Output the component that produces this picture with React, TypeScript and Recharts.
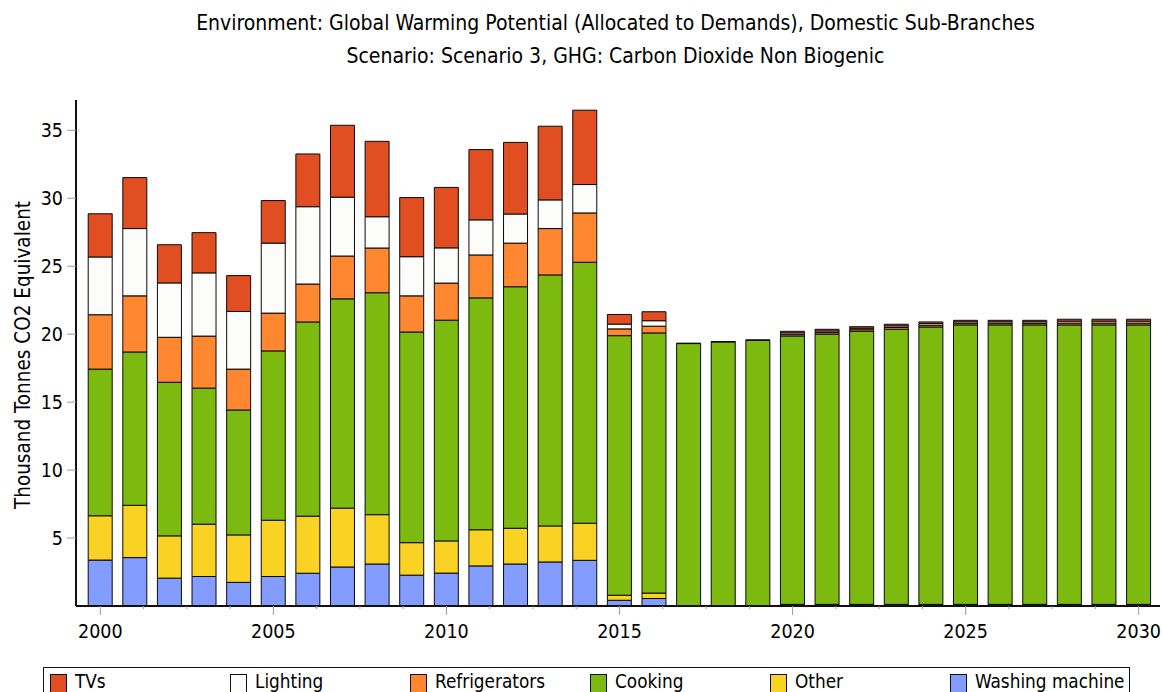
import React from "react";
import { BarChart, Bar, XAxis, YAxis, Legend } from "recharts";

const FONT = "'DejaVu Sans Condensed', Tahoma, 'DejaVu Sans', sans-serif";

const titleLine1 =
  "Environment: Global Warming Potential (Allocated to Demands), Domestic Sub-Branches";
const titleLine2 = "Scenario: Scenario 3, GHG: Carbon Dioxide Non Biogenic";
const yAxisTitle = "Thousand Tonnes CO2 Equivalent";

const years = [
  2000, 2001, 2002, 2003, 2004, 2005, 2006, 2007, 2008, 2009, 2010, 2011, 2012,
  2013, 2014, 2015, 2016, 2017, 2018, 2019, 2020, 2021, 2022, 2023, 2024, 2025,
  2026, 2027, 2028, 2029, 2030,
];

// thousand tonnes CO2e
const washingMachine = [
  3.38, 3.56, 2.05, 2.17, 1.74, 2.17, 2.41, 2.87, 3.09, 2.27, 2.42, 2.95, 3.09,
  3.24, 3.36, 0.42, 0.55, 0, 0, 0, 0.06, 0.06, 0.06, 0.06, 0.06, 0.06, 0.06,
  0.06, 0.06, 0.06, 0.06,
];
const other = [
  3.26, 3.85, 3.11, 3.85, 3.49, 4.14, 4.2, 4.33, 3.63, 2.39, 2.37, 2.66, 2.63,
  2.65, 2.73, 0.37, 0.4, 0, 0, 0, 0.06, 0.06, 0.06, 0.06, 0.06, 0.06, 0.06,
  0.06, 0.06, 0.06, 0.06,
];
const cooking = [
  10.79, 11.28, 11.3, 10.01, 9.19, 12.46, 14.29, 15.4, 16.33, 15.5, 16.24, 17.06,
  17.77, 18.47, 19.2, 19.1, 19.14, 19.31, 19.43, 19.55, 19.75, 19.89, 20.09,
  20.24, 20.41, 20.56, 20.56, 20.56, 20.56, 20.56, 20.56,
];
const refrigerators = [
  4.0, 4.13, 3.31, 3.83, 3.01, 2.78, 2.79, 3.15, 3.29, 2.66, 2.73, 3.16, 3.21,
  3.41, 3.63, 0.5, 0.5, 0.03, 0.03, 0.03, 0.12, 0.12, 0.12, 0.13, 0.13, 0.12,
  0.12, 0.12, 0.14, 0.14, 0.14,
];
const lighting = [
  4.25, 4.95, 4.0, 4.65, 4.24, 5.15, 5.69, 4.33, 2.3, 2.88, 2.59, 2.58, 2.14,
  2.11, 2.09, 0.35, 0.4, 0, 0, 0, 0.11, 0.11, 0.11, 0.12, 0.12, 0.11, 0.11,
  0.11, 0.14, 0.14, 0.14,
];
const tvs = [
  3.18, 3.75, 2.81, 2.96, 2.64, 3.13, 3.88, 5.29, 5.55, 4.35, 4.45, 5.17, 5.27,
  5.42, 5.47, 0.71, 0.66, 0, 0, 0, 0.11, 0.12, 0.11, 0.12, 0.12, 0.11, 0.11,
  0.11, 0.14, 0.14, 0.14,
];

const yTicks = [5, 10, 15, 20, 25, 30, 35];
const xTicks = [
  2000, 2001.25, 2002.5, 2003.75, 2005, 2006.25, 2007.5, 2008.75, 2010, 2011.25,
  2012.5, 2013.75, 2015, 2016.25, 2017.5, 2018.75, 2020, 2021.25, 2022.5,
  2023.75, 2025, 2026.25, 2027.5, 2028.75, 2030,
];

// bottom-to-top stacking order
const series = [
  { key: "washing", name: "Washing machine", color: "#839CFF" },
  { key: "other", name: "Other", color: "#FAD224" },
  { key: "cooking", name: "Cooking", color: "#7CBA10" },
  { key: "refrigerators", name: "Refrigerators", color: "#FE8730" },
  { key: "lighting", name: "Lighting", color: "#FCFCFA" },
  { key: "tvs", name: "TVs", color: "#E04E22" },
];

const data = years.map((year, i) => ({
  year,
  washing: washingMachine[i],
  other: other[i],
  cooking: cooking[i],
  refrigerators: refrigerators[i],
  lighting: lighting[i],
  tvs: tvs[i],
}));

const xDomain = [1999.5, 2030.5];
const xPadding = { left: 7, right: 4 };

function YearTick({ x, y, payload }: any) {
  const v = payload.value;
  const major = v % 5 === 0;
  return (
    <g>
      <line x1={x} x2={x} y1={y} y2={y + (major ? 9 : 3)} stroke="#9a9a9a" />
      {major && (
        <text
          x={x}
          y={y + 32}
          textAnchor="middle"
          fontSize={19.5}
          fontFamily={FONT}
          fill="#000"
        >
          {v}
        </text>
      )}
    </g>
  );
}

function YTitle({ viewBox }: any) {
  const cx = viewBox.x + 23;
  const cy = viewBox.y + viewBox.height / 2 + 2;
  return (
    <text
      x={cx}
      y={cy}
      transform={`rotate(-90 ${cx} ${cy})`}
      textAnchor="middle"
      dominantBaseline="central"
      fontSize={20.5}
      fontFamily={FONT}
      fill="#000"
    >
      {yAxisTitle}
    </text>
  );
}

function LegendBox() {
  const items = [...series].reverse();
  return (
    <div
      style={{
        border: "1px solid #111",
        height: 40,
        boxSizing: "border-box",
        position: "relative",
        fontFamily: FONT,
        fontSize: 18.8,
      }}
    >
      {items.map((s, i) => (
        <div key={s.key} style={{ position: "absolute", left: 6 + i * 180, top: 6 }}>
          <div
            style={{
              position: "absolute",
              left: 0,
              top: 0,
              width: 15,
              height: 22,
              background: s.color,
              border: "1px solid #111",
            }}
          />
          <div
            style={{
              position: "absolute",
              left: 25,
              top: -4,
              whiteSpace: "nowrap",
              lineHeight: "24px",
            }}
          >
            {s.name}
          </div>
        </div>
      ))}
    </div>
  );
}

export default function App() {
  return (
    <div
      style={{
        position: "absolute",
        left: 0,
        top: 0,
        width: 1162,
        height: 692,
        overflow: "hidden",
        background: "#fff",
        fontFamily: FONT,
      }}
    >
      <div
        style={{
          position: "absolute",
          top: 13,
          left: 0,
          width: 1231,
          textAlign: "center",
          fontSize: 21,
          lineHeight: "21px",
          color: "#000",
        }}
      >
        <div>{titleLine1}</div>
        <div style={{ marginTop: 12 }}>{titleLine2}</div>
      </div>
      <BarChart
        width={1162}
        height={692}
        data={data}
        margin={{ top: 100, right: 2, bottom: 0, left: 0 }}
        barCategoryGap="15%"
      >
        <XAxis
          xAxisId="cat"
          dataKey="year"
          type="category"
          hide
          height={0}
          padding={xPadding}
        />
        <XAxis
          xAxisId="num"
          dataKey="year"
          type="number"
          domain={xDomain}
          ticks={xTicks}
          interval={0}
          allowDataOverflow
          padding={xPadding}
          height={86}
          tickSize={0}
          tickMargin={0}
          tickLine={false}
          tick={<YearTick />}
          axisLine={{ stroke: "#111", strokeWidth: 2 }}
        />
        <XAxis
          xAxisId="top"
          orientation="top"
          dataKey="year"
          type="number"
          domain={xDomain}
          height={0}
          tick={false}
          tickLine={false}
          axisLine={{ stroke: "#111", strokeWidth: 2 }}
        />
        <YAxis
          domain={[0, 37.23]}
          ticks={yTicks}
          allowDataOverflow
          width={76}
          tickSize={9}
          tickMargin={4}
          tickLine={{ stroke: "#9a9a9a" }}
          axisLine={{ stroke: "#111", strokeWidth: 2 }}
          tick={{ fill: "#000", fontSize: 19.5, fontFamily: FONT }}
          label={{ content: YTitle }}
        />
        {series.map((s) => (
          <Bar
            key={s.key}
            dataKey={s.key}
            name={s.name}
            stackId="total"
            xAxisId="cat"
            fill={s.color}
            stroke="#0a0a0a"
            strokeWidth={1}
            isAnimationActive={false}
          />
        ))}
        <Legend
          layout="horizontal"
          verticalAlign="middle"
          content={<LegendBox />}
          wrapperStyle={{ position: "absolute", left: 43, top: 667, width: 1087, height: 40 }}
        />
      </BarChart>
    </div>
  );
}
